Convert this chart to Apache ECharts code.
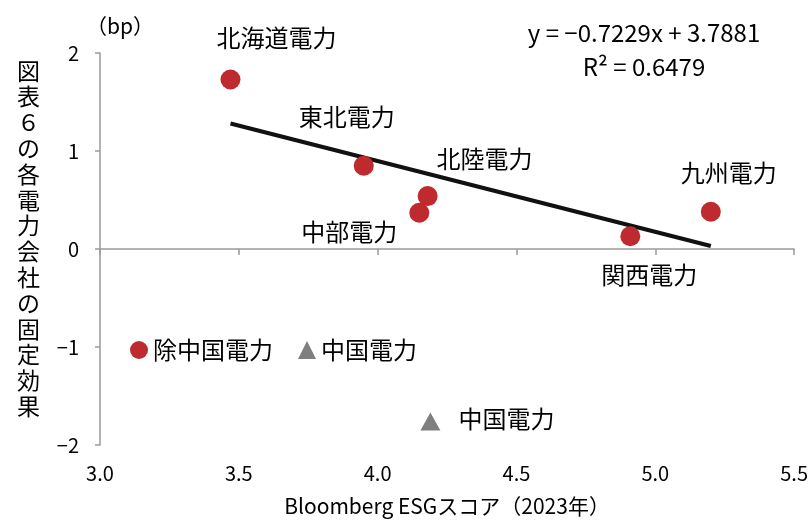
<!DOCTYPE html>
<html><head><meta charset="utf-8">
<script src="https://cdn.jsdelivr.net/npm/echarts@6/dist/echarts.min.js"></script>
<style>html,body{margin:0;padding:0;background:#fff}#c{width:811px;height:522px}</style>
</head><body><div id="c"></div>
<script>
// data
var companies = ['北海道電力','東北電力','北陸電力','中部電力','関西電力','九州電力'];
var esgScore  = [3.47, 3.95, 4.18, 4.15, 4.91, 5.20];
var fixedEff  = [1.73, 0.85, 0.54, 0.37, 0.13, 0.38];
var chugokuName = '中国電力';
var chugokuEsg = 4.19;
var chugokuEff = -1.76;
var trendX = [3.47, 5.20];
var trendY = [1.28, 0.03];
var xTicks = [3.0, 3.5, 4.0, 4.5, 5.0, 5.5];
var yTicks = [-2, -1, 0, 1, 2];
var equationText = 'y = −0.7229x + 3.7881';
var r2Text = 'R² = 0.6479';
var yTitle = '図表６の各電力会社の固定効果';
var xTitle = 'Bloomberg ESGスコア（2023年）';
var unitText = '（bp）';

// label offsets (styling, px)
var labelOffsets = [[46,-42],[-17,-49],[57,-37],[-70,19],[19,39],[18,-39]];
var chugokuOffset = [76,-3];

var FONT = '"Noto Sans CJK JP", "Noto Sans", sans-serif';
var chart = echarts.init(document.getElementById('c'), null, {renderer:'canvas'});

var circleData = companies.map(function(n,i){
  return {name:n, value:[esgScore[i], fixedEff[i]],
    label:{show:true, formatter:n, position:'inside', offset:labelOffsets[i]}};
});

chart.setOption({
  animation:false,
  backgroundColor:'#fff',
  grid:{left:100, right:13, top:53, bottom:74},
  legend:{
    left:130, top:338, padding:0, itemWidth:18, itemHeight:18, itemGap:25,
    textStyle:{fontFamily:FONT, fontSize:24, color:'#000'},
    data:[{name:'除中国電力', icon:'circle'},{name:'中国電力', icon:'triangle'}]
  },
  xAxis:[{
    type:'value', min:3.0, max:5.5, interval:0.5,
    axisLine:{show:false, onZero:false}, axisTick:{show:false}, splitLine:{show:false},
    axisLabel:{margin:18, fontFamily:FONT, fontSize:20, color:'#000',
      formatter:function(v){return v.toFixed(1);}},
    name:xTitle, nameLocation:'middle', nameGap:51,
    nameTextStyle:{fontFamily:FONT, fontSize:21, color:'#000'}
  },{
    type:'value', min:3.0, max:5.5, interval:0.5, position:'bottom',
    axisLine:{show:true, onZero:true, lineStyle:{color:'#9a9a9a', width:1.5}},
    axisTick:{show:true, length:6, lineStyle:{color:'#9a9a9a', width:1.5}},
    axisLabel:{show:false}, splitLine:{show:false}
  }],
  yAxis:{
    type:'value', min:-2, max:2, interval:1,
    axisLine:{show:true, lineStyle:{color:'#9a9a9a', width:1.5}},
    axisTick:{show:true, length:5, lineStyle:{color:'#9a9a9a', width:1.5}},
    splitLine:{show:false},
    axisLabel:{margin:21, fontFamily:FONT, fontSize:20, color:'#000',
      formatter:function(v){return String(v).replace('-', '−');}}
  },
  graphic:[
    {type:'text', left:17, top:58, style:{text:yTitle.split('').join('\n'), font:'23px '+FONT, lineHeight:25.8, fill:'#000', textAlign:'left'}},
    {type:'text', x:120, y:26, style:{text:unitText, font:'21px '+FONT, fill:'#000', textAlign:'center', textVerticalAlign:'middle'}},
    {type:'text', x:644, y:33, style:{text:equationText, font:'24px '+FONT, fill:'#000', textAlign:'center', textVerticalAlign:'middle'}},
    {type:'text', x:644, y:67, style:{text:r2Text, font:'24px '+FONT, fill:'#000', textAlign:'center', textVerticalAlign:'middle'}}
  ],
  series:[
    {type:'line', name:'trend', xAxisIndex:0, data:trendX.map(function(x,i){return [x, trendY[i]];}),
      symbol:'none', lineStyle:{color:'#111', width:4}, z:1, silent:true},
    {type:'scatter', name:'除中国電力', xAxisIndex:0, symbol:'circle', symbolSize:20,
      itemStyle:{color:'#bf2a2e', opacity:1},
      label:{fontFamily:FONT, fontSize:24, color:'#000'},
      data:circleData, z:3},
    {type:'scatter', name:'中国電力', xAxisIndex:0, symbol:'triangle', symbolSize:[20,18],
      itemStyle:{color:'#7f7f7f', opacity:1},
      label:{show:true, position:'inside', offset:chugokuOffset, formatter:chugokuName, fontFamily:FONT, fontSize:24, color:'#000'},
      data:[[chugokuEsg, chugokuEff]], z:3}
  ]
});
</script></body></html>
